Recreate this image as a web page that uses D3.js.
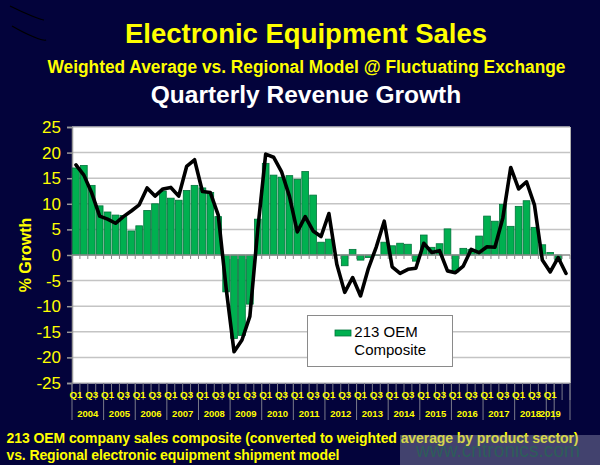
<!DOCTYPE html>
<html><head><meta charset="utf-8">
<script src="https://cdn.jsdelivr.net/npm/d3@7"></script>
<style>
html,body{margin:0;padding:0;background:#03033b;}
svg{display:block;font-family:Arial,"Liberation Sans",sans-serif;}
</style>
</head><body>
<svg id="chart" width="600" height="465"></svg>
<script>
// ---------- data ----------
const years = [2004,2005,2006,2007,2008,2009,2010,2011,2012,2013,2014,2015,2016,2017,2018,2019];
const quarterNames = ["Q1","Q2","Q3","Q4"];
// 2004 Q1 ... 2019 Q1, then two unlabeled periods
const categories = years.flatMap(y => quarterNames.map(q => y + " " + q)).slice(0, 61).concat(["", ""]);
const shownQuarterLabels = ["Q1","Q3"];
const yTicks = [25,20,15,10,5,0,-5,-10,-15,-20,-25];

// 213 OEM Composite (bars)
const compositeValues = [
  17.0,17.5,13.6,9.6, 8.4,7.8,7.7,4.7, 5.7,8.7,10.0,12.5, 11.1,10.7,12.6,13.6,
  13.1,12.2,7.5,-7.2, -16.3,-15.7,-9.6,7.0, 17.9,15.6,15.2,15.5, 14.8,16.3,11.7,2.5,
  3.1,0,-2.1,1.1, -1.0,-0.5,0,2.5, 1.8,2.3,2.1,-1.2, 3.9,1.5,2.2,5.1,
  -3.3,1.3,1.1,3.7, 7.6,6.6,9.9,5.6, 9.5,10.6,5.4,2.0, 0.5,-1.0
];
// Regional electronic equipment shipment model (line)
const modelValues = [
  17.6,15.6,12.1,7.6, 7.0,6.2,7.5,8.6, 9.8,13.1,11.5,12.9, 13.2,11.5,17.3,18.6,
  12.4,12.2,7.8,-6.5, -18.9,-16.6,-12.0,5.0, 19.7,19.1,16.3,11.5, 4.5,7.5,4.7,3.6,
  8.1,-1.8,-7.3,-4.4, -8.0,-2.6,1.6,6.6, -2.3,-3.6,-2.8,-2.6, 2.3,0.5,0.85,-3.1,
  -3.45,-2.15,1.1,0.46, 1.6,1.5,7.2,17.1, 12.9,14.3,9.8,-1.0, -3.3,-0.5,-3.6
];

const titleText = "Electronic Equipment Sales";
const subtitleText = "Weighted Average vs. Regional Model @ Fluctuating Exchange";
const subtitle2Text = "Quarterly Revenue Growth";
const yAxisTitle = "% Growth";
const legendLines = ["213 OEM","Composite"];
const footnoteLines = [
  "213 OEM company sales composite (converted to weighted average by product sector)",
  "vs. Regional electronic equipment shipment model"
];
const watermarkText = "www.cntronics.com";

// ---------- drawing ----------
const svg = d3.select("#chart");
const W = 600, H = 465;
const plot = {left:72, right:570, top:127, bottom:383};
const yellow = "#ffff00";

svg.append("rect").attr("width",W).attr("height",H).attr("fill","#03033b");

// scribbles top-left
svg.append("path").attr("d","M10,6 Q22,12 32,16 T44,20").attr("fill","none").attr("stroke","#000").attr("stroke-width",1.2);
svg.append("path").attr("d","M12,26 Q24,33 34,37 T46,40").attr("fill","none").attr("stroke","#000").attr("stroke-width",1.2);

// titles
svg.append("text").attr("x",306).attr("y",43).attr("text-anchor","middle")
  .attr("fill",yellow).attr("font-weight","bold").attr("font-size",27.5).text(titleText);
svg.append("text").attr("x",306.5).attr("y",72.5).attr("text-anchor","middle")
  .attr("fill",yellow).attr("font-weight","bold").attr("font-size",17.5)
  .attr("textLength",518).attr("lengthAdjust","spacingAndGlyphs").text(subtitleText);
svg.append("text").attr("x",306).attr("y",103).attr("text-anchor","middle")
  .attr("fill","#ffffff").attr("font-weight","bold").attr("font-size",24.5).text(subtitle2Text);

// scales
const x = d3.scaleBand().domain(d3.range(categories.length)).range([plot.left, plot.right])
  .paddingInner(0.15).paddingOuter(0.075);
const step = x.step();
const y = d3.scaleLinear().domain([-25,25]).range([plot.bottom, plot.top]);

// plot background
svg.append("rect").attr("x",plot.left).attr("y",plot.top)
  .attr("width",plot.right-plot.left).attr("height",plot.bottom-plot.top).attr("fill","#ffffff");

// gridlines
svg.append("g").selectAll("line").data(yTicks.filter(t=>t!==0)).join("line")
  .attr("x1",plot.left).attr("x2",plot.right)
  .attr("y1",d=>y(d)).attr("y2",d=>y(d))
  .attr("stroke","#c4c4c4").attr("stroke-width",1.5);
// right border
svg.append("line").attr("x1",plot.right+0.5).attr("x2",plot.right+0.5)
  .attr("y1",plot.top).attr("y2",plot.bottom).attr("stroke","#b0b0b0").attr("stroke-width",1);

// y axis
const yAxis = d3.axisLeft(y).tickValues(yTicks).tickSize(5).tickPadding(6).tickFormat(d => String(d));
const gy = svg.append("g").attr("transform",`translate(${plot.left},0)`).call(yAxis);
gy.select(".domain").attr("stroke","#999").attr("stroke-width",1.5);
gy.selectAll(".tick line").attr("stroke","#999").attr("stroke-width",1.5);
gy.selectAll(".tick text").attr("fill",yellow).attr("font-size",17)
  .attr("font-family","Arial, 'Liberation Sans', sans-serif");

// y axis title
svg.append("text").attr("transform","translate(31,255) rotate(-90)").attr("text-anchor","middle")
  .attr("fill",yellow).attr("font-weight","bold").attr("font-size",16).text(yAxisTitle);

// bars
svg.append("g").selectAll("rect").data(compositeValues).join("rect")
  .attr("x",(d,i)=>x(i))
  .attr("width",x.bandwidth())
  .attr("y",d=>y(Math.max(0,d)))
  .attr("height",d=>Math.max(0.5,Math.abs(y(d)-y(0))))
  .attr("fill","#00b050").attr("stroke","#00733a").attr("stroke-width",0.8);

// zero line with category ticks
svg.append("line").attr("x1",plot.left).attr("x2",plot.right)
  .attr("y1",y(0)).attr("y2",y(0)).attr("stroke","#8c8c8c").attr("stroke-width",1.5);
const boundaries = d3.range(categories.length+1).map(i => plot.left + i*step);
svg.append("g").selectAll("line").data(boundaries).join("line")
  .attr("x1",d=>d).attr("x2",d=>d).attr("y1",y(0)).attr("y2",y(0)+4)
  .attr("stroke","#8c8c8c").attr("stroke-width",1);

// model line
const line = d3.line().x((d,i)=>x(i)+x.bandwidth()/2).y(d=>y(d)).curve(d3.curveLinear);
svg.append("path").datum(modelValues).attr("d",line)
  .attr("fill","none").attr("stroke","#000").attr("stroke-width",3.6)
  .attr("stroke-linejoin","round").attr("stroke-linecap","round");

// x axis: quarter ticks and labels
const xg = svg.append("g");
const yearOf = c => c === "" ? null : +c.split(" ")[0];
const yearStarts = boundaries.filter((b,i)=> i===0 || i===categories.length || (categories[i] !== "" && categories[i].endsWith("Q1")) || (categories[i]==="" && categories[i-1]!==""));
xg.selectAll("line.q").data(boundaries).join("line").attr("class","q")
  .attr("x1",d=>d).attr("x2",d=>d).attr("y1",plot.bottom).attr("y2",400)
  .attr("stroke","#7a7a8a").attr("stroke-width",1);
xg.selectAll("line.yr").data(yearStarts).join("line").attr("class","yr")
  .attr("x1",d=>d).attr("x2",d=>d).attr("y1",plot.bottom).attr("y2",420)
  .attr("stroke","#7a7a8a").attr("stroke-width",1);
xg.selectAll("text.q").data(categories.map((c,i)=>({c,i})).filter(d=>d.c!=="" && shownQuarterLabels.includes(d.c.split(" ")[1])))
  .join("text").attr("class","q")
  .attr("x",d=>x(d.i)+x.bandwidth()/2).attr("y",398.3).attr("text-anchor","middle")
  .attr("fill",yellow).attr("font-weight","bold").attr("font-size",9.8).text(d=>d.c.split(" ")[1]);
xg.selectAll("text.yr").data(years).join("text").attr("class","yr")
  .attr("x",yr=>{
    const idx = categories.map((c,i)=>yearOf(c)===yr?i:-1).filter(i=>i>=0);
    return d3.mean(idx, i => x(i)+x.bandwidth()/2);
  })
  .attr("y",416.7).attr("text-anchor","middle")
  .attr("fill",yellow).attr("font-weight","bold").attr("font-size",9.5).text(d=>d);

// legend
const lg = svg.append("g");
lg.append("rect").attr("x",307.5).attr("y",315.5).attr("width",145).attr("height",51)
  .attr("fill","#ffffff").attr("stroke","#8a8a8a").attr("stroke-width",1);
lg.append("rect").attr("x",335).attr("y",330).attr("width",16).attr("height",6)
  .attr("fill","#00b050").attr("stroke","#00733a").attr("stroke-width",0.8);
lg.selectAll("text").data(legendLines).join("text")
  .attr("x",354.3).attr("y",(d,i)=>337.3 + i*17.7)
  .attr("fill","#000").attr("font-size",15).text(d=>d);

// footnote
svg.selectAll("text.fn").data(footnoteLines).join("text").attr("class","fn")
  .attr("x",6.5).attr("y",(d,i)=>443 + i*17)
  .attr("fill",yellow).attr("font-weight","bold").attr("font-size",14)
  .attr("textLength",(d,i)=> i===0 ? 572 : 333).attr("lengthAdjust","spacing")
  .text(d=>d);

// watermark
svg.append("rect").attr("x",400).attr("y",435).attr("width",200).attr("height",30)
  .attr("fill","#9a9ab4").attr("opacity",0.42);
svg.append("text").attr("x",416).attr("y",457).attr("fill","#2d5d5a").attr("font-size",19.5)
  .attr("textLength",164).attr("lengthAdjust","spacingAndGlyphs").text(watermarkText);
</script>
</body></html>
